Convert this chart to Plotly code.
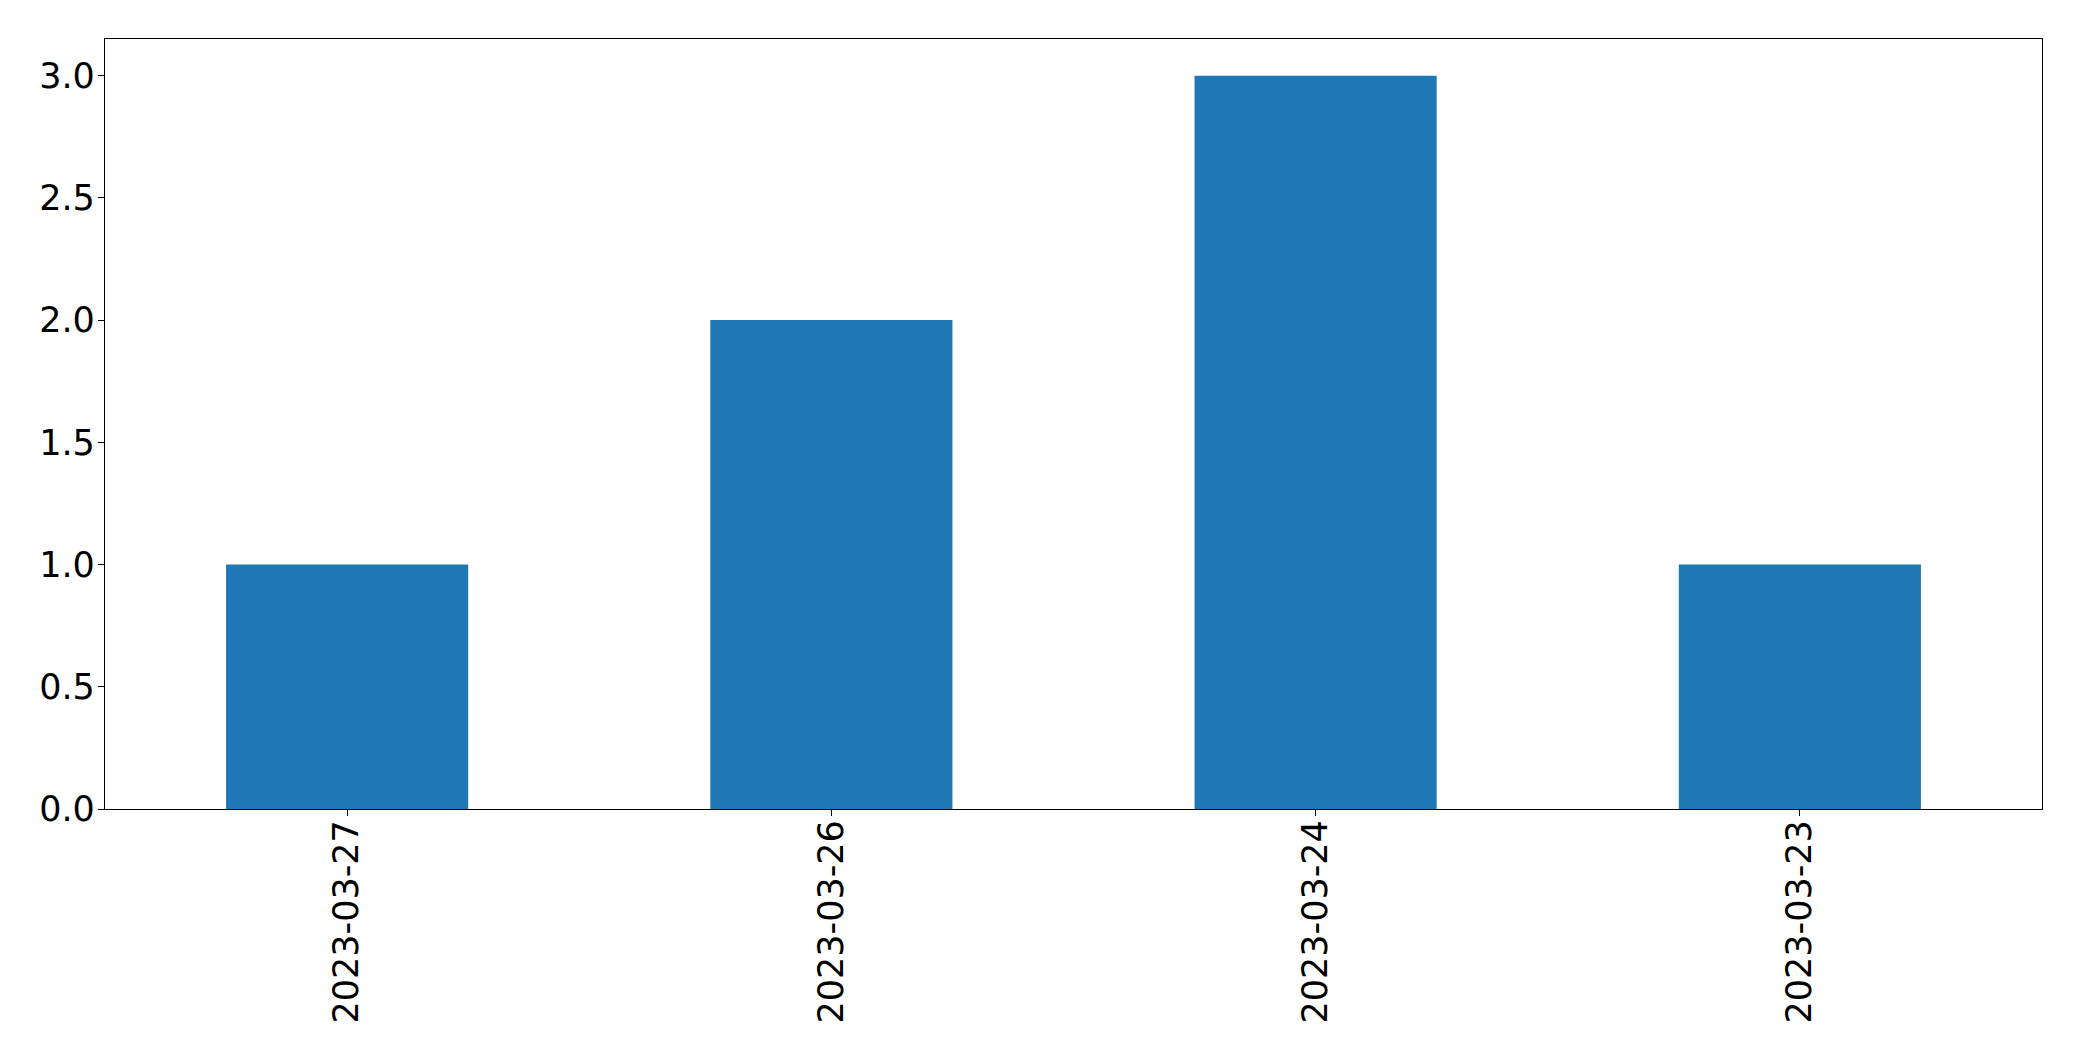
import plotly.graph_objects as go

dates = ["2023-03-27", "2023-03-26", "2023-03-24", "2023-03-23"]
counts = [1, 2, 3, 1]

fig = go.Figure(go.Bar(x=dates, y=counts, width=0.5, marker=dict(color="#1f77b4", line=dict(width=0))))

axis_common = dict(showline=True, linecolor="black", linewidth=1.3, mirror=True,
                   ticks="outside", ticklen=6, tickwidth=1.3, tickcolor="black",
                   showgrid=False, zeroline=False,
                   tickfont=dict(family="DejaVu Sans", size=35, color="black"))

# page body has an 8px default margin, so margins are offset by 8px
fig.update_layout(
    width=2082, height=1061,
    margin=dict(l=97, r=48, t=31, b=260),
    plot_bgcolor="white", paper_bgcolor="white",
    showlegend=False,
    xaxis=dict(type="category", range=[-0.5, 3.5], tickangle=-90, ticklabelstandoff=-10, **axis_common),
    yaxis=dict(range=[0, 3.15], tickvals=[0, 0.5, 1, 1.5, 2, 2.5, 3], ticklabelstandoff=-4,
               ticktext=["0.0", "0.5", "1.0", "1.5", "2.0", "2.5", "3.0"], **axis_common),
)

fig.write_html("out.html")
